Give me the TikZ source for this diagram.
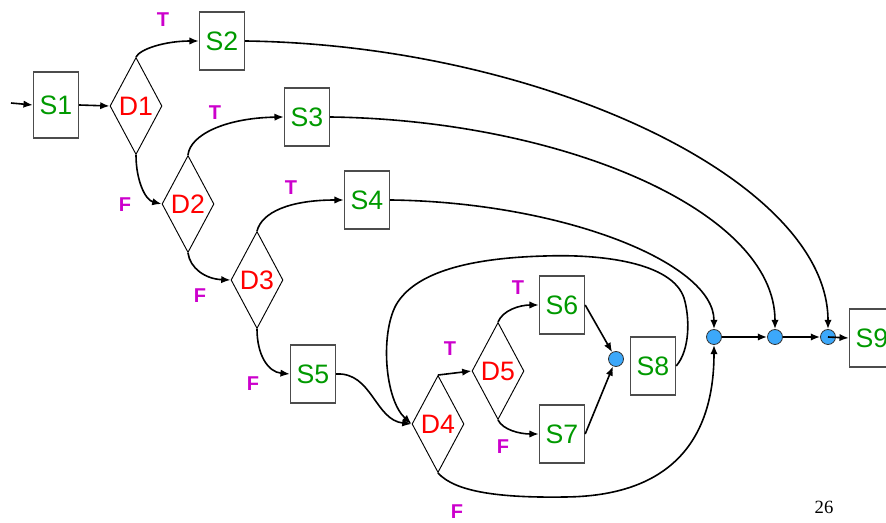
\documentclass[tikz,border=0pt]{standalone}
\usepackage{fontspec}
\setmainfont{Liberation Sans}
\newfontfamily\pagenumfont{Liberation Serif}
\usetikzlibrary{shapes.geometric,arrows.meta}
\definecolor{sgreen}{RGB}{0,153,0}
\definecolor{dred}{RGB}{255,0,0}
\definecolor{tfmag}{RGB}{204,0,204}
\definecolor{jblue}{RGB}{60,168,250}
\begin{document}
\begin{tikzpicture}[x=0.75pt,y=-0.75pt,
  sbox/.style={draw=black!70, line width=0.8pt, minimum width=34pt, minimum height=43.5pt,
    inner sep=0pt, text=sgreen, font=\fontsize{20}{22}\selectfont},
  dec/.style={diamond, draw, line width=0.7pt, minimum width=39pt, minimum height=72.75pt,
    inner sep=0pt, aspect=0.5, text=dred, font=\fontsize{20}{22}\selectfont},
  jn/.style={circle, draw=black!80, fill=jblue, minimum size=11.25pt, inner sep=0pt, line width=0.6pt},
  lab/.style={text=tfmag, font=\bfseries\fontsize{15}{17}\selectfont, inner sep=0pt},
  arr/.style={-{Latex[length=7pt,width=5.5pt]}, line width=1.2pt}]
\clip (0,0) rectangle (886,523);
% nodes
\node[sbox, minimum height=49.5pt] (S1) at (56,105) {S1};
\node[dec] (D1) at (136,106) {D1};
\node[sbox] (S2) at (222,41) {S2};
\node[dec] (D2) at (188,204) {D2};
\node[sbox] (S3) at (307,117) {S3};
\node[dec] (D3) at (257,280) {D3};
\node[sbox] (S4) at (367,200) {S4};
\node[sbox] (S5) at (313,374) {S5};
\node[dec] (D4) at (438,424) {D4};
\node[dec] (D5) at (498,371) {D5};
\node[sbox] (S6) at (562,305) {S6};
\node[sbox] (S7) at (562,434) {S7};
\node[jn] (m) at (616,359) {};
\node[sbox] (S8) at (653,366) {S8};
\node[jn] (c1) at (714,337) {};
\node[jn] (c2) at (775,337) {};
\node[jn] (c3) at (828,337) {};
\node[sbox] (S9) at (872,338) {S9};
\coordinate (in) at (11,103);
% labels
\node[lab] (t1) at (163,20) {T};
\node[lab] (f1) at (125,205) {F};
\node[lab] (t2) at (215,113) {T};
\node[lab] (f2) at (200,296) {F};
\node[lab] (t3) at (291,188) {T};
\node[lab] (f3) at (253,384) {F};
\node[lab] (t4) at (450,349) {T};
\node[lab] (t5) at (518,288) {T};
\node[lab] (f5) at (503,447) {F};
\node[lab] (f4) at (457,512) {F};
\node[font=\pagenumfont\fontsize{14}{16}\selectfont, inner sep=0pt] (pg) at (824,507) {26};
% connectors
\draw[arr] (in) -- (S1.west);
\draw[arr] (S1.east) -- (D1.west);
\draw[arr] (D1.north) .. controls (140,49) and (165,41) .. (S2.west);
\draw[arr] (D1.south) .. controls (136,180) and (145,200) .. (D2.west);
\draw[arr] (D2.north) .. controls (190,135) and (225,118) .. (S3.west);
\draw[arr] (D2.south) .. controls (190,268) and (205,279) .. (D3.west);
\draw[arr] (D3.north) .. controls (262,212) and (290,200) .. (S4.west);
\draw[arr] (D3.south) .. controls (257,355) and (268,372) .. (S5.west);
\draw[arr] (S5.east) .. controls (372,372) and (375,420) .. (D4.west);
\draw[arr] (D4.north) -- (D5.west);
\draw[arr] (D5.north) .. controls (503,310) and (520,305) .. (S6.west);
\draw[arr] (D5.south) .. controls (503,430) and (520,434) .. (S7.west);
\draw[arr] (S6.east) -- (m);
\draw[arr] (S7.east) -- (m);
\draw[arr] (S8.east) .. controls (690,350) and (690,318) .. (684,298)
  .. controls (672,262) and (600,254) .. (545,256)
  .. controls (470,258) and (415,272) .. (396,305)
  .. controls (380,335) and (385,400) .. (D4.west);
\draw[arr] (D4.south) .. controls (455,492) and (500,498) .. (565,497)
  .. controls (680,496) and (714,430) .. (c1.south);
\draw[arr] (S4.east) .. controls (560,202) and (714,262) .. (c1.north);
\draw[arr] (S3.east) .. controls (560,120) and (775,210) .. (c2.north);
\draw[arr] (S2.east) .. controls (540,45) and (828,180) .. (c3.north);
\draw[arr] (c1) -- (c2);
\draw[arr] (c2) -- (c3);
\draw[arr] (c3.center) -- (S9.west);
\end{tikzpicture}
\end{document}
